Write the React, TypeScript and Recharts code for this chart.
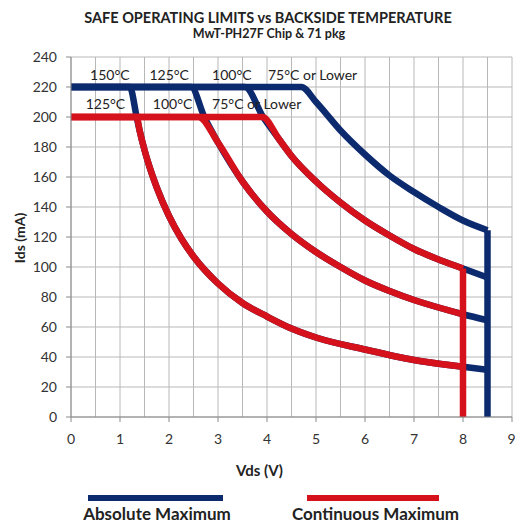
import {LineChart, Line, CartesianGrid, XAxis, YAxis, ReferenceDot} from 'recharts';

// Continuous Maximum (red) curves
const cont125Vds = [0, 1.34, 1.4, 1.5, 1.6, 1.75, 2, 2.25, 2.5, 3, 3.5, 4, 4.5, 5, 6, 7, 8];
const cont125Ids = [200, 200, 191, 178, 167, 153, 134, 119, 107, 89, 76, 67, 59, 53, 45, 38, 33.5];
const cont100Vds = [0, 2.6, 3, 3.5, 4, 4.5, 5, 5.5, 6, 6.5, 7, 7.5, 8];
const cont100Ids = [200, 200, 183, 157, 137, 122, 110, 100, 91, 84, 78, 73, 68.5];
const cont75Vds = [0, 3.9, 4.25, 4.5, 5, 5.5, 6, 6.5, 7, 7.5, 8];
const cont75Ids = [200, 200, 185, 174, 157, 143, 131, 121, 112, 105, 99];
const contLimitVds = [8, 8];
const contLimitIds = [0, 99];

// Absolute Maximum (blue) curves
const abs150Vds = [0, 1.2, 1.34, 1.4, 1.5, 1.6, 1.75, 2, 2.25, 2.5, 3, 3.5, 4, 4.5, 5, 6, 7, 8, 8.5];
const abs150Ids = [220, 220, 200, 191, 178, 167, 153, 134, 119, 107, 89, 76, 67, 59, 53, 45, 38, 33.5, 31.5];
const abs125Vds = [0, 2.45, 2.72, 3, 3.5, 4, 4.5, 5, 5.5, 6, 6.5, 7, 7.5, 8, 8.5];
const abs125Ids = [220, 220, 200, 183, 157, 137, 122, 110, 100, 91, 84, 78, 73, 68.5, 64.5];
const abs100Vds = [0, 3.55, 3.92, 4.25, 4.5, 5, 5.5, 6, 6.5, 7, 7.5, 8, 8.5];
const abs100Ids = [220, 220, 200, 185, 174, 157, 143, 131, 121, 112, 105, 99, 93];
const abs75Vds = [0, 4.7, 5, 5.5, 6, 6.5, 7, 7.5, 8, 8.5];
const abs75Ids = [220, 220, 210, 191, 175, 161, 150, 140, 131, 124.5];
const absLimitVds = [8.5, 8.5];
const absLimitIds = [0, 124.5];

const xTicks = [0, 1, 2, 3, 4, 5, 6, 7, 8, 9];
const xGrid = [0, 0.5, 1, 1.5, 2, 2.5, 3, 3.5, 4, 4.5, 5, 5.5, 6, 6.5, 7, 7.5, 8, 8.5, 9];
const yTicks = [0, 20, 40, 60, 80, 100, 120, 140, 160, 180, 200, 220, 240];

const absLabels = ['150°C', '125°C', '100°C', '75°C or Lower'];
const absLabelVds = [0.39, 1.6, 2.88, 4.02];
const contLabels = ['125°C', '100°C', '75°C or Lower'];
const contLabelVds = [0.3, 1.67, 2.88];

const BLUE = '#0c2a6e';
const RED = '#d5121b';
const FONT = 'Lato, "Open Sans", sans-serif';

const toPoints = (vds: number[], ids: number[]) => vds.map((v, i) => ({vds: v, ids: ids[i]}));

const blueSeries = [
    toPoints(abs150Vds, abs150Ids),
    toPoints(abs125Vds, abs125Ids),
    toPoints(abs100Vds, abs100Ids),
    toPoints(abs75Vds, abs75Ids),
];
const redSeries = [
    toPoints(cont125Vds, cont125Ids),
    toPoints(cont100Vds, cont100Ids),
    toPoints(cont75Vds, cont75Ids),
];

const textLabel = (text: string) => (props: any) => (
    <text x={props.cx} y={props.cy} fontSize={14} fontFamily={FONT} fill="#222">{text}</text>
);

export default function App() {
    return (
        <div style={{position: 'absolute', left: 0, top: 0, width: 515, height: 525, background: '#fff', fontFamily: FONT}}>
            <div style={{position: 'absolute', left: 0, top: 9, width: 536, textAlign: 'center', fontWeight: 700, fontSize: 14.5, color: '#222'}}>
                SAFE OPERATING LIMITS vs BACKSIDE TEMPERATURE
            </div>
            <div style={{position: 'absolute', left: 0, top: 26, width: 538, textAlign: 'center', fontWeight: 700, fontSize: 12.5, color: '#222'}}>
                MwT-PH27F Chip &amp; 71 pkg
            </div>
            <div style={{position: 'absolute', left: 19, top: 238, transform: 'translate(-50%, -50%) rotate(-90deg)', fontWeight: 700, fontSize: 14, color: '#222', whiteSpace: 'nowrap'}}>
                Ids (mA)
            </div>
            <LineChart width={515} height={525} margin={{top: 57, right: 3, bottom: 78, left: 21}}>
                <CartesianGrid stroke="#b8b8b8" verticalValues={xGrid} horizontalValues={yTicks}/>
                <XAxis type="number" dataKey="vds" domain={[0, 9]} ticks={xTicks} allowDataOverflow
                       height={30} stroke="#8a8a8a" tickSize={5} tickMargin={12}
                       tick={{fontSize: 14, fill: '#333', fontFamily: FONT}}/>
                <YAxis type="number" dataKey="ids" domain={[0, 240]} ticks={yTicks} width={50}
                       stroke="#8a8a8a" tickSize={5} tickMargin={9}
                       tick={{fontSize: 14, fill: '#333', fontFamily: FONT}}/>
                {blueSeries.map((d, i) => (
                    <Line key={'b' + i} data={d} dataKey="ids" type="monotone" stroke={BLUE} strokeWidth={6.5}
                          strokeLinejoin="round" dot={false} isAnimationActive={false}/>
                ))}
                <Line data={toPoints(absLimitVds, absLimitIds)} dataKey="ids" type="linear" stroke={BLUE} strokeWidth={6.5}
                      dot={false} isAnimationActive={false}/>
                {redSeries.map((d, i) => (
                    <Line key={'r' + i} data={d} dataKey="ids" type="monotone" stroke={RED} strokeWidth={6.5}
                          strokeLinejoin="round" dot={false} isAnimationActive={false}/>
                ))}
                <Line data={toPoints(contLimitVds, contLimitIds)} dataKey="ids" type="linear" stroke={RED} strokeWidth={6.5}
                      dot={false} isAnimationActive={false}/>
                {absLabels.map((t, i) => (
                    <ReferenceDot key={'al' + i} x={absLabelVds[i]} y={224.5} shape={textLabel(t)}/>
                ))}
                {contLabels.map((t, i) => (
                    <ReferenceDot key={'cl' + i} x={contLabelVds[i]} y={205.5} shape={textLabel(t)}/>
                ))}
            </LineChart>
            <div style={{position: 'absolute', left: 236, top: 461, fontWeight: 700, fontSize: 15, color: '#222'}}>
                Vds (V)
            </div>
            <div style={{position: 'absolute', left: 88, top: 495, width: 135, height: 6, background: BLUE}}/>
            <div style={{position: 'absolute', left: 307, top: 495, width: 132, height: 6, background: RED}}/>
            <div style={{position: 'absolute', left: 80, top: 503, width: 154, textAlign: 'center', fontWeight: 700, fontSize: 17, color: '#222', whiteSpace: 'nowrap'}}>
                Absolute Maximum
            </div>
            <div style={{position: 'absolute', left: 288, top: 503, width: 175, textAlign: 'center', fontWeight: 700, fontSize: 17, color: '#222', whiteSpace: 'nowrap'}}>
                Continuous Maximum
            </div>
        </div>
    );
}
